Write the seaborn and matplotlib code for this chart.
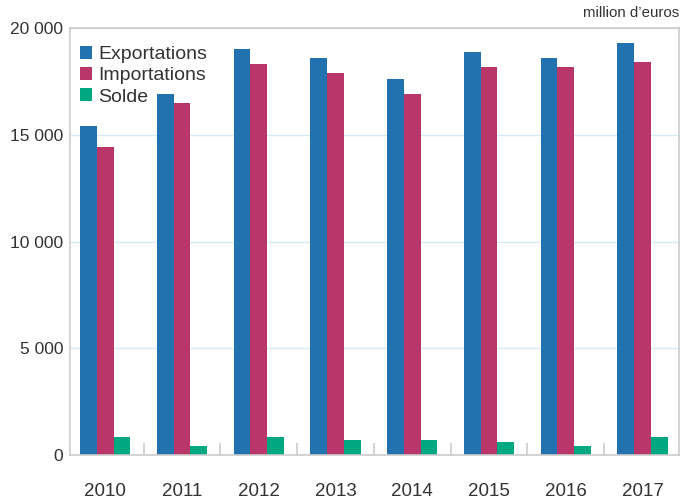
import matplotlib
matplotlib.use("Agg")
import matplotlib.pyplot as plt
import seaborn as sns
import pandas as pd
import numpy as np
from matplotlib.ticker import FuncFormatter, FixedLocator

years = ["2010", "2011", "2012", "2013", "2014", "2015", "2016", "2017"]
exportations = [15400, 16900, 19000, 18580, 17600, 18860, 18580, 19280]
importations = [14430, 16500, 18300, 17880, 16900, 18160, 18160, 18430]
solde = [850, 430, 850, 700, 700, 600, 430, 850]
series_names = ["Exportations", "Importations", "Solde"]
colors = ["#2272b0", "#b9366b", "#00a882"]
yticks = [0, 5000, 10000, 15000, 20000]

df = pd.DataFrame({
    "year": years * 3,
    "value": exportations + importations + solde,
    "series": [series_names[0]] * 8 + [series_names[1]] * 8 + [series_names[2]] * 8,
})

sns.set_style("white")
plt.rcParams["font.family"] = ["Liberation Sans Narrow", "Liberation Sans", "DejaVu Sans"]

fig = plt.figure(figsize=(6.83, 5.01), dpi=100)
ax = fig.add_axes([70 / 683, 46 / 501, 609 / 683, 427 / 501])

sns.barplot(data=df, x="year", y="value", hue="series", order=years,
            hue_order=series_names, palette=colors, width=0.655,
            saturation=1, ax=ax, edgecolor="none", linewidth=0)

ax.set_xlim(-0.459, 7.475)
ax.set_ylim(0, 20000)
ax.yaxis.set_major_locator(FixedLocator(yticks))
ax.yaxis.set_major_formatter(FuncFormatter(lambda v, p: f"{int(v):,}".replace(",", " ")))
ax.grid(axis="y", color="#d4ebf5", linewidth=1)
ax.set_axisbelow(True)
ax.set_xlabel("")
ax.set_ylabel("")

for s in ax.spines.values():
    s.set_color("#cccccc")
    s.set_linewidth(1.2)

ax.tick_params(axis="y", length=0, pad=5, labelsize=12.5, labelcolor="#333333")
ax.set_xticks(range(len(years)), years)
ax.set_xticks(np.arange(0.5, len(years) - 0.5, 1), minor=True)
ax.tick_params(axis="x", which="major", bottom=True, length=0, pad=20,
               labelsize=13.5, labelcolor="#333333")
ax.tick_params(axis="x", which="minor", bottom=True, direction="in", length=9,
               color="#cccccc", width=1.2)

handles, labels = ax.get_legend_handles_labels()
leg = ax.legend(handles, labels, loc="upper left", bbox_to_anchor=(0.016, 0.958),
                frameon=False, fontsize=14, handlelength=0.65, handleheight=0.65,
                handletextpad=0.3, labelspacing=0.2, borderaxespad=0, borderpad=0)
for t in leg.get_texts():
    t.set_color("#333333")

fig.text(679 / 683, 1 - 13 / 501, "million d’euros", ha="right", va="center",
         fontsize=10.8, color="#333333")

fig.savefig("out.png", dpi=100)
